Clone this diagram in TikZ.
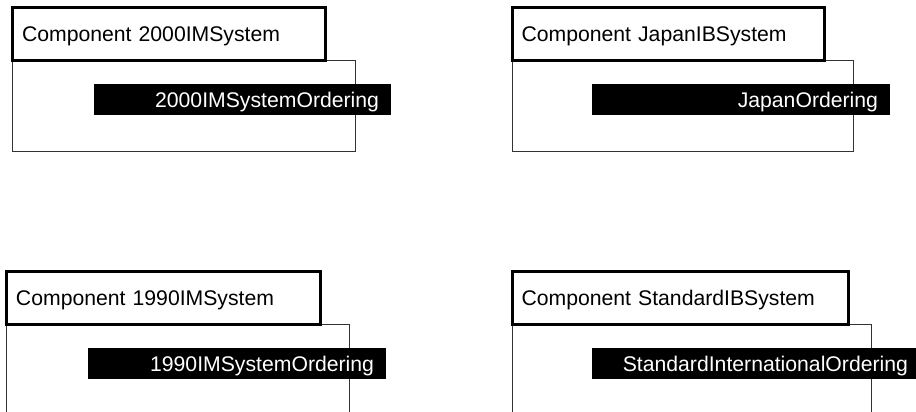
\documentclass[tikz,border=0pt]{standalone}
\usepackage{fontspec}
\setmainfont{Liberation Sans}
\begin{document}
\begin{tikzpicture}[x=1pt,y=-1pt,
  every node/.style={outer sep=0pt, inner ysep=0pt},
  txt/.style={font=\fontsize{21.2}{25}\selectfont, text height=15pt, text depth=0pt},
  titlebox/.style={txt, draw=black, fill=white, line width=3pt, anchor=north west,
    inner xsep=9.5pt, align=left},
  bodybox/.style={draw=black!80, line width=1pt, anchor=north west, inner sep=0pt},
  bar/.style={txt, fill=black, text=white, anchor=north west, inner xsep=12pt, align=right,
    minimum height=31pt}
]
\useasboundingbox (0,0) rectangle (916,412);
\clip (0,0) rectangle (916,412);

% Component 2000IMSystem
\node[bodybox, minimum width=342.5pt, minimum height=90.5pt] (b1) at (12.5,60.5) {};
\node[titlebox, minimum width=312.5pt, minimum height=53pt, text width=293.5pt] (t1) at (12.5,7.5) {Component 2000IMSystem};
\node[bar, minimum width=297pt, text width=273pt] (o1) at (94,84) {2000IMSystemOrdering};

% Component JapanIBSystem
\node[bodybox, minimum width=341.5pt, minimum height=90.5pt] (b2) at (512,60.5) {};
\node[titlebox, minimum width=312.5pt, minimum height=53pt, text width=293.5pt] (t2) at (512,7.5) {Component JapanIBSystem};
\node[bar, minimum width=298pt, text width=274pt] (o2) at (592,84) {JapanOrdering};

% Component 1990IMSystem
\node[bodybox, minimum width=342.5pt, minimum height=110pt] (b3) at (6.5,324.5) {};
\node[titlebox, minimum width=313.5pt, minimum height=53pt, text width=294.5pt] (t3) at (6.5,271.5) {Component 1990IMSystem};
\node[bar, minimum width=298pt, text width=274pt] (o3) at (88,348) {1990IMSystemOrdering};

% Component StandardIBSystem
\node[bodybox, minimum width=359pt, minimum height=110pt] (b4) at (512,324.5) {};
\node[titlebox, minimum width=336pt, minimum height=53pt, text width=317pt] (t4) at (512,271.5) {Component StandardIBSystem};
\node[bar, minimum width=328pt, text width=304pt] (o4) at (592,348) {StandardInternationalOrdering};
\end{tikzpicture}
\end{document}
